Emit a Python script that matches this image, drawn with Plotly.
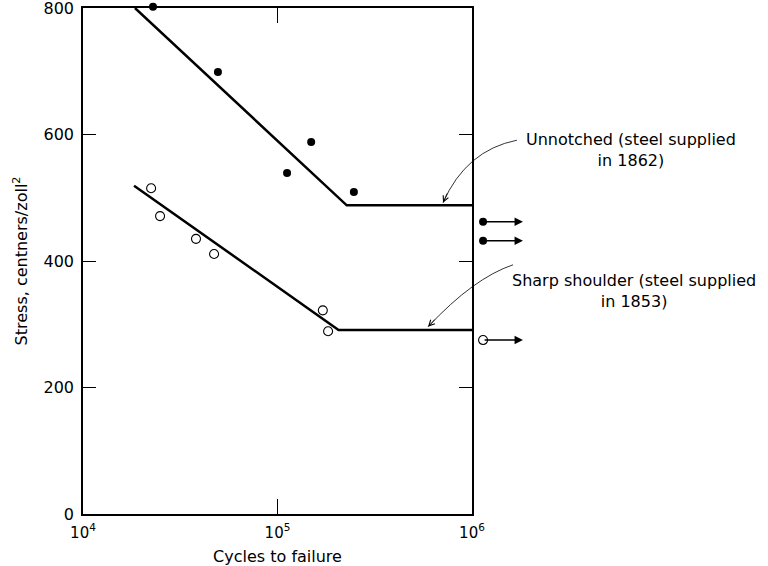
import numpy as np
import plotly.graph_objects as go

# ---------------- data ----------------
# Unnotched (steel supplied 1862) - filled circles
unnotched_cycles = [2.29e4, 4.94e4, 1.12e5, 1.49e5, 2.47e5]
unnotched_stress = [802, 699, 539, 588, 509]
# run-outs (did not fail) beyond 10^6
unnotched_runout_cycles = [1.14e6, 1.14e6]
unnotched_runout_stress = [462, 432]
# fitted S-N line
unnotched_fit_cycles = [1.85e4, 2.27e5, 1.0e6]
unnotched_fit_stress = [800, 488, 488]

# Sharp shoulder (steel supplied 1853) - open circles
shoulder_cycles = [2.24e4, 2.49e4, 3.81e4, 4.72e4, 1.71e5, 1.82e5]
shoulder_stress = [515, 471, 435, 411, 322, 289]
shoulder_runout_cycles = [1.14e6]
shoulder_runout_stress = [275]
shoulder_fit_cycles = [1.83e4, 2.06e5, 1.0e6]
shoulder_fit_stress = [519, 291, 291]

x_tickvals = [1e4, 1e5, 1e6]
x_ticktext = ["10<sup>4</sup>", "10<sup>5</sup>", "10<sup>6</sup>"]
y_tickvals = [0, 200, 400, 600, 800]

# callouts: text, text position (log10 cycles, stress), curve start, control, arrow tip
callouts = [
    dict(text="Unnotched (steel supplied<br>in 1862)", tx=6.817, ty=575,
         sx=6.231, sy=591, cx=5.969, cy=575, ex=5.851, ey=492),
    dict(text="Sharp shoulder (steel supplied<br>in 1853)", tx=6.835, ty=353,
         sx=6.211, sy=394, cx=6.008, cy=373, ex=5.774, ey=296),
]
runout_arrow_len = 0.205   # decades

X_RANGE = [4, 6]
Y_RANGE = [0, 800]
FONT = "DejaVu Sans"

# geometry: main frame and an invisible full-area overlay for out-of-frame marks
W, H = 768, 566
ML, MB = 83, 52
FRAME_W, FRAME_H = 389, 506
area_w, area_h = W - ML, H - MB
decade_px = FRAME_W / (X_RANGE[1] - X_RANGE[0])
unit_px = FRAME_H / (Y_RANGE[1] - Y_RANGE[0])
X2_RANGE = [X_RANGE[0], X_RANGE[0] + area_w / decade_px]
Y2_RANGE = [Y_RANGE[0], Y_RANGE[0] + area_h / unit_px]

fig = go.Figure()

fig.add_trace(go.Scatter(x=unnotched_fit_cycles, y=unnotched_fit_stress, mode="lines",
                         line=dict(color="black", width=2.5), showlegend=False,
                         xaxis="x", yaxis="y"))
fig.add_trace(go.Scatter(x=shoulder_fit_cycles, y=shoulder_fit_stress, mode="lines",
                         line=dict(color="black", width=2.5), showlegend=False,
                         xaxis="x", yaxis="y"))

fig.add_trace(go.Scatter(x=unnotched_cycles + unnotched_runout_cycles,
                         y=unnotched_stress + unnotched_runout_stress, mode="markers",
                         marker=dict(symbol="circle", size=8, color="black"),
                         cliponaxis=False, showlegend=False, xaxis="x2", yaxis="y2"))
fig.add_trace(go.Scatter(x=shoulder_cycles + shoulder_runout_cycles,
                         y=shoulder_stress + shoulder_runout_stress, mode="markers",
                         marker=dict(symbol="circle-open", size=9, color="black",
                                     line=dict(width=1.1, color="black")),
                         cliponaxis=False, showlegend=False, xaxis="x2", yaxis="y2"))

annotations = []
# run-out arrows
for cx_, sy_ in zip(unnotched_runout_cycles + shoulder_runout_cycles,
                    unnotched_runout_stress + shoulder_runout_stress):
    annotations.append(dict(x=np.log10(cx_) + runout_arrow_len, y=sy_, xref="x2", yref="y2",
                            ax=-runout_arrow_len * decade_px, ay=0, text="", showarrow=True,
                            arrowhead=2, arrowsize=1.2, arrowwidth=1.4,
                            arrowcolor="black", standoff=0, startstandoff=0))

shapes = []
def to_paper(u, s):
    return ((u - X2_RANGE[0]) / (X2_RANGE[1] - X2_RANGE[0]),
            (s - Y2_RANGE[0]) / (Y2_RANGE[1] - Y2_RANGE[0]))

for c in callouts:
    annotations.append(dict(x=c["tx"], y=c["ty"], xref="x2", yref="y2", text=c["text"],
                            showarrow=False, align="center", xanchor="center", yanchor="middle",
                            font=dict(family=FONT, size=16, color="black")))
    p0 = to_paper(c["sx"], c["sy"])
    pc = to_paper(c["cx"], c["cy"])
    p1 = to_paper(c["ex"], c["ey"])
    shapes.append(dict(type="path", xref="paper", yref="paper",
                       path=f"M {p0[0]},{p0[1]} Q {pc[0]},{pc[1]} {p1[0]},{p1[1]}",
                       line=dict(color="black", width=0.8)))
    # arrowhead at the tip along the curve tangent
    dx = (c["cx"] - c["ex"]) * decade_px
    dy = (c["cy"] - c["ey"]) * unit_px
    n = np.hypot(dx, dy)
    annotations.append(dict(x=c["ex"], y=c["ey"], xref="x2", yref="y2", text="",
                            showarrow=True, ax=dx / n * 12, ay=-dy / n * 12,
                            arrowhead=5, arrowsize=1.4, arrowwidth=0.8,
                            arrowcolor="black", standoff=0))

fig.update_layout(
    template="none",
    width=W, height=H,
    margin=dict(l=ML, r=0, t=0, b=MB, pad=0),
    plot_bgcolor="rgba(0,0,0,0)", paper_bgcolor="white",
    font=dict(family=FONT, color="black"),
    annotations=annotations, shapes=shapes,
    xaxis=dict(type="log", range=X_RANGE, domain=[0, FRAME_W / area_w], anchor="y",
               automargin=False, ticklabeloverflow="allow",
               tickvals=x_tickvals, ticktext=x_ticktext,
               ticks="inside", ticklen=15, tickwidth=1, tickcolor="black",
               showline=True, linecolor="black", linewidth=1.5, mirror="ticks",
               showgrid=False, zeroline=False, ticklabelstandoff=4,
               tickfont=dict(family=FONT, size=15),
               title=dict(text="Cycles to failure", font=dict(family=FONT, size=16), standoff=12)),
    yaxis=dict(range=Y_RANGE, domain=[0, FRAME_H / area_h],
               anchor="x", automargin=False, ticklabeloverflow="allow",
               tickvals=y_tickvals,
               ticks="inside", ticklen=13, tickwidth=1, tickcolor="black",
               showline=True, linecolor="black", linewidth=1.5, mirror="ticks",
               showgrid=False, zeroline=False, ticklabelstandoff=4,
               tickfont=dict(family=FONT, size=16),
               title=dict(text="Stress, centners/zoll<sup>2</sup>", font=dict(family=FONT, size=16), standoff=12)),
    xaxis2=dict(type="log", range=X2_RANGE, domain=[0, 1], anchor="y2", visible=False, automargin=False),
    yaxis2=dict(range=Y2_RANGE, domain=[0, 1], anchor="x2", visible=False, automargin=False),
)

fig.write_html("out.html")
